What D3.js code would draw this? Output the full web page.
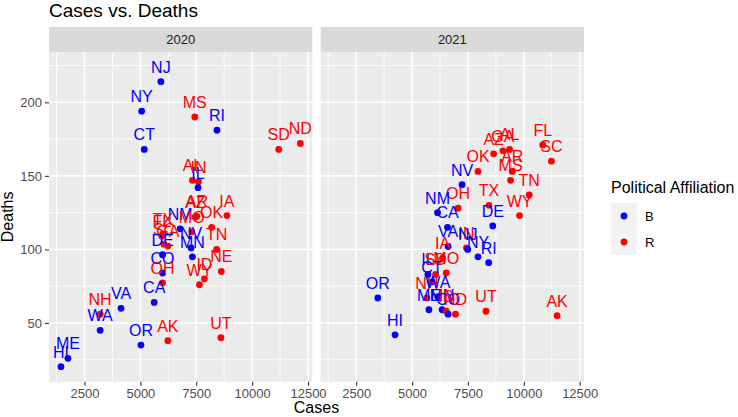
<!DOCTYPE html>
<html>
<head>
<meta charset="utf-8">
<script src="https://cdn.jsdelivr.net/npm/d3@7"></script>
<style>
body { margin: 0; background: #fff; }
text { font-family: Arial, "Liberation Sans", sans-serif; }
</style>
</head>
<body>
<script>
// datos, un array por columna y por año
var estados2020 = ["NJ","NY","CT","MS","RI","SD","ND","AL","IN","IL","AZ","AR","IA","OK","NM","MO","TX","FL","SC","GA","NV","MN","TN","NE","ID","WY","DE","CO","OH","CA","VA","NH","WA","OR","AK","UT","ME","HI"];
var partido2020 = ["B","B","B","R","B","R","R","R","R","B","R","R","R","R","B","R","R","R","R","R","B","B","R","R","R","R","B","B","R","B","B","R","B","B","R","R","B","B"];
var casos2020 = [5918,5058,5174,7433,8427,11189,12156,7330,7598,7580,7450,7530,8872,8190,6778,7299,6007,5962,6051,6230,7268,7330,8413,8622,7865,7642,5993,5993,5993,5619,4135,3200,3200,5027,6230,8605,1760,1448];
var muertes2020 = [214,194,168,190,181,168,172,147,146,142,122,122.5,123,115,114,112,110.5,109,103.6,102.3,101,95,100,85,80,76,96.4,84,77.3,64,60,56,45,35,38,40,26,20.3];

var estados2021 = ["FL","SC","AZ","GA","AL","OK","AR","MS","TN","NV","TX","OH","WY","DE","CA","NM","VA","IN","NJ","NY","RI","IA","MO","IL","SD","CT","NH","WA","ME","MN","ID","CO","ND","UT","AK","OR","HI"];
var partido2021 = ["R","R","R","R","R","R","R","R","R","B","R","R","R","B","B","B","B","R","B","B","B","R","R","B","R","B","R","B","B","B","R","B","R","R","R","B","B"];
var casos2021 = [10846,11234,8649,9064,9362,7950,9483,9407,10240,7237,8440,7059,9808,8610,6586,6140,6613,7433,7491,7950,8427,6363,6528,5708,6051,5887,5664,6158,5753,6345,6528,6613,6943,8307,11488,3467,4238];
var muertes2021 = [171,160,165,167,168,153,153,147,137,144,130,128,123,116,115,125,102,101,100,95,91,94,84,83,83,78,67,68,59,59,58,56,56,58,55,67,42];

var anios = ["2020","2021"];
var ticksX = [2500,5000,7500,10000,12500];
var ticksY = [50,100,150,200];
var partidos = ["B","R"];
var colores = ["#0000ff","#ff0000"];

var W = 738, H = 417;
var paneles = [{x0:49, x1:312.3}, {x0:320.7, x1:584}];
var panelArriba = 52, panelAbajo = 381.7, tiraArriba = 27;
var subida = 10; // las etiquetas van 10 muertes por encima del punto
var fuente = "Arial, 'Liberation Sans', sans-serif";

var svg = d3.select("body").append("svg")
  .attr("width", W)
  .attr("height", H);

svg.append("rect").attr("width", W).attr("height", H).attr("fill", "#fff");

var color = d3.scaleOrdinal().domain(partidos).range(colores);

// limites comunes a los dos paneles, con el 5% de margen como ggplot
var todosCasos = casos2020.concat(casos2021);
var todasMuertes = muertes2020.concat(muertes2021);
var minX = d3.min(todosCasos), maxX = d3.max(todosCasos);
var minY = d3.min(todasMuertes), maxY = d3.max(todasMuertes) + subida;
var padX = (maxX - minX) * 0.05, padY = (maxY - minY) * 0.05;

var y = d3.scaleLinear().domain([minY - padY, maxY + padY]).range([panelAbajo, panelArriba]);

var datos = [
  {estados: estados2020, partido: partido2020, casos: casos2020, muertes: muertes2020},
  {estados: estados2021, partido: partido2021, casos: casos2021, muertes: muertes2021}
];

// titulo
svg.append("text")
  .attr("x", 49).attr("y", 17)
  .attr("font-size", 19)
  .attr("fill", "#000")
  .text("Cases vs. Deaths");

anios.forEach(function(anio, i) {
  var p = paneles[i];
  var x = d3.scaleLinear().domain([minX - padX, maxX + padX]).range([p.x0, p.x1]);
  var g = svg.append("g");

  // tira con el año
  g.append("rect")
    .attr("x", p.x0).attr("y", tiraArriba)
    .attr("width", p.x1 - p.x0).attr("height", panelArriba - tiraArriba)
    .attr("fill", "#d9d9d9");
  g.append("text")
    .attr("x", (p.x0 + p.x1) / 2).attr("y", (tiraArriba + panelArriba) / 2 + 4.5)
    .attr("text-anchor", "middle")
    .attr("font-size", 13)
    .attr("fill", "#1a1a1a")
    .text(anio);

  // fondo del panel
  g.append("rect")
    .attr("x", p.x0).attr("y", panelArriba)
    .attr("width", p.x1 - p.x0).attr("height", panelAbajo - panelArriba)
    .attr("fill", "#ebebeb");

  // rejilla menor
  var menoresX = [];
  for (var k = 0; k <= ticksX.length; k++) menoresX.push(ticksX[0] - 1250 + k * 2500);
  var menoresY = [];
  for (var k = 0; k <= ticksY.length; k++) menoresY.push(ticksY[0] - 25 + k * 50);
  var dx = x.domain(), dy = y.domain();

  g.selectAll(".minx").data(menoresX.filter(function(v){ return v > dx[0] && v < dx[1]; }))
    .enter().append("line")
    .attr("x1", function(d){ return x(d); }).attr("x2", function(d){ return x(d); })
    .attr("y1", panelArriba).attr("y2", panelAbajo)
    .attr("stroke", "#fff").attr("stroke-width", 0.8);
  g.selectAll(".miny").data(menoresY.filter(function(v){ return v > dy[0] && v < dy[1]; }))
    .enter().append("line")
    .attr("x1", p.x0).attr("x2", p.x1)
    .attr("y1", function(d){ return y(d); }).attr("y2", function(d){ return y(d); })
    .attr("stroke", "#fff").attr("stroke-width", 0.8);

  // rejilla mayor
  g.selectAll(".majx").data(ticksX)
    .enter().append("line")
    .attr("x1", function(d){ return x(d); }).attr("x2", function(d){ return x(d); })
    .attr("y1", panelArriba).attr("y2", panelAbajo)
    .attr("stroke", "#fff").attr("stroke-width", 1.6);
  g.selectAll(".majy").data(ticksY)
    .enter().append("line")
    .attr("x1", p.x0).attr("x2", p.x1)
    .attr("y1", function(d){ return y(d); }).attr("y2", function(d){ return y(d); })
    .attr("stroke", "#fff").attr("stroke-width", 1.6);

  // eje X
  var ejeX = g.append("g")
    .attr("transform", "translate(0," + panelAbajo + ")")
    .call(d3.axisBottom(x).tickValues(ticksX).tickSize(4).tickPadding(3).tickFormat(d3.format("d")));
  ejeX.attr("font-size", 13).attr("font-family", fuente);
  ejeX.select(".domain").remove();
  ejeX.selectAll("line").attr("stroke", "#333").attr("stroke-width", 1.1);
  ejeX.selectAll("text").attr("fill", "#4d4d4d");

  // eje Y solo en el primer panel
  if (i == 0) {
    var ejeY = g.append("g")
      .attr("transform", "translate(" + p.x0 + ",0)")
      .call(d3.axisLeft(y).tickValues(ticksY).tickSize(4).tickPadding(3));
    ejeY.attr("font-size", 13).attr("font-family", fuente);
    ejeY.select(".domain").remove();
    ejeY.selectAll("line").attr("stroke", "#333").attr("stroke-width", 1.1);
    ejeY.selectAll("text").attr("fill", "#4d4d4d");
  }

  // puntos y etiquetas
  var d = datos[i];
  var filas = d.estados.map(function(e, j) {
    return {estado: e, partido: d.partido[j], casos: d.casos[j], muertes: d.muertes[j]};
  });

  g.selectAll(".punto").data(filas)
    .enter().append("circle")
    .attr("class", "punto")
    .attr("cx", function(r){ return x(r.casos); })
    .attr("cy", function(r){ return y(r.muertes); })
    .attr("r", 3.4)
    .attr("fill", function(r){ return color(r.partido); });

  g.selectAll(".etiqueta").data(filas)
    .enter().append("text")
    .attr("class", "etiqueta")
    .attr("x", function(r){ return x(r.casos); })
    .attr("y", function(r){ return y(r.muertes + subida) + 5.7; })
    .attr("text-anchor", "middle")
    .attr("font-size", 16)
    .attr("fill", function(r){ return color(r.partido); })
    .text(function(r){ return r.estado; });
});

// titulos de los ejes
svg.append("text")
  .attr("x", (paneles[0].x0 + paneles[1].x1) / 2).attr("y", 413)
  .attr("text-anchor", "middle")
  .attr("font-size", 16)
  .text("Cases");
svg.append("text")
  .attr("transform", "translate(13," + ((panelArriba + panelAbajo) / 2) + ") rotate(-90)")
  .attr("text-anchor", "middle")
  .attr("font-size", 16)
  .text("Deaths");

// leyenda
var ley = svg.append("g").attr("transform", "translate(611,0)");
ley.append("text")
  .attr("x", 0).attr("y", 192.5)
  .attr("font-size", 16)
  .text("Political Affiliation");
partidos.forEach(function(pt, i) {
  var yy = 203 + i * 26;
  ley.append("rect")
    .attr("x", 0).attr("y", yy)
    .attr("width", 26).attr("height", 26)
    .attr("fill", "#f2f2f2");
  ley.append("circle")
    .attr("cx", 13).attr("cy", yy + 13)
    .attr("r", 3.4)
    .attr("fill", color(pt));
  ley.append("text")
    .attr("x", 34).attr("y", yy + 13 + 4.6)
    .attr("font-size", 13)
    .attr("fill", "#000")
    .text(pt);
});
</script>
</body>
</html>
